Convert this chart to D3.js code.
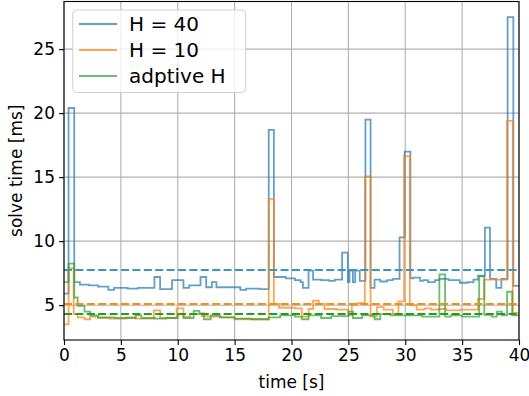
<!DOCTYPE html>
<html>
<head>
<meta charset="utf-8">
<script src="https://cdn.jsdelivr.net/npm/d3@7"></script>
<style>
  body { margin: 0; background: #fff; }
  text { font-family: "DejaVu Sans", sans-serif; }
</style>
</head>
<body>
<svg id="chart" width="529" height="396"></svg>
<script>
// step series: time where each step starts [s] and its solve time [ms]
let tH40 = [0, 0.4, 0.9, 1.4, 2.2, 3.0, 3.9, 4.4, 5.6, 6.5, 7.95, 8.45, 9.5, 10.5, 11.0, 12.0, 12.5, 13.0, 13.4, 15.5, 16.0, 17.2,
  18.0, 18.45, 19.5, 20.3, 20.8, 21.0, 21.5, 21.9, 22.6, 23.3, 23.8, 24.45, 24.95, 25.1, 25.4, 25.6, 26.0, 26.5, 26.95, 27.3,
  27.8, 28.4, 28.9, 29.5, 29.95, 30.45, 30.7, 31.3, 31.6, 32.0, 32.6, 33.0, 33.8, 34.8, 35.5, 36.0, 36.4, 37.0, 37.45, 38.0,
  38.45, 39.0, 39.5];
let vH40 = [5.9, 20.4, 6.8, 6.6, 6.55, 6.45, 6.2, 6.35, 6.3, 6.35, 7.2, 6.25, 6.95, 6.35, 6.55, 7.2, 6.4, 6.8, 6.4, 6.2, 6.3, 6.25,
  18.7, 7.2, 7.1, 6.95, 6.8, 6.35, 7.7, 7.0, 6.95, 6.9, 7.0, 9.1, 6.8, 7.7, 6.8, 7.7, 6.9, 19.5, 6.35, 7.0,
  6.85, 6.95, 7.05, 10.3, 17.0, 7.1, 7.15, 6.9, 6.95, 6.8, 6.95, 7.05, 6.95, 6.75, 6.8, 7.0, 7.3, 11.05, 7.05, 6.35,
  7.05, 27.5, 6.5];

let tH10 = [0, 0.4, 0.85, 1.2, 1.8, 2.3, 3.0, 4.0, 5.5, 6.3, 7.9, 8.45, 9.9, 10.5, 11.1, 12.1, 12.6, 13.8, 15.0, 18.0, 18.45,
  18.9, 20.3, 20.9, 21.5, 21.9, 22.4, 22.9, 24.0, 25.0, 25.3, 25.8, 26.45, 26.95, 27.5, 28.1, 28.9, 29.4, 29.9, 30.4, 31.0,
  31.7, 32.3, 32.9, 33.6, 34.8, 36.4, 36.95, 38.95, 39.45];
let vH10 = [3.5, 7.9, 4.3, 4.05, 3.9, 4.1, 4.0, 3.95, 4.05, 3.95, 4.6, 4.0, 4.75, 4.1, 4.3, 4.15, 4.1, 4.05, 3.9, 13.3, 5.1,
  4.8, 4.75, 4.1, 4.7, 5.35, 5.1, 4.7, 4.65, 4.2, 5.05, 5.15, 15.05, 4.1, 4.85, 4.65, 4.3, 5.3, 16.65, 5.0, 4.65,
  4.75, 4.65, 4.7, 4.6, 4.65, 5.5, 7.0, 19.4, 4.4];

let tAdapt = [0, 0.4, 0.9, 1.2, 1.8, 2.3, 3.0, 4.5, 6.3, 6.8, 8.0, 9.0, 10.0, 10.5, 11.4, 11.9, 12.3, 12.9, 13.7, 15.0, 16.5,
  18.0, 19.0, 20.3, 20.9, 21.5, 22.6, 23.5, 25.0, 25.4, 26.2, 27.3, 27.8, 28.7, 30.5, 31.5, 33.0, 33.5, 34.0, 35.0, 36.5,
  36.95, 37.6, 38.05, 38.5, 38.95, 39.4];
let vAdapt = [6.8, 8.25, 5.6, 4.95, 4.5, 4.2, 4.05, 4.0, 4.2, 4.0, 3.95, 4.0, 4.3, 4.0, 4.55, 4.35, 3.9, 4.2, 4.05, 3.95, 3.9,
  4.05, 4.2, 4.1, 3.9, 4.2, 4.0, 4.15, 4.5, 4.0, 4.2, 3.9, 4.3, 4.2, 4.2, 4.1, 7.4, 4.1, 4.2, 4.1, 7.25,
  4.25, 4.1, 4.5, 4.2, 6.05, 4.2];

let means = [7.74, 5.13, 4.3];
let labels = ["H = 40", "H = 10", "adptive H"];
let xTicks = [0, 5, 10, 15, 20, 25, 30, 35, 40];
let yTicks = [5, 10, 15, 20, 25];

let lineColors = ["#1f77b4", "#ff7f0e", "#2ca02c"];
let dashColors = ["#3a97bb", "#f5900f", "#1f9e1f"];

let svg = d3.select("#chart");
let pLeft = 64, pRight = 519, pTop = 1.5, pBottom = 340;

let x = d3.scaleLinear().domain([0, 40]).range([pLeft, pRight]);
let y = d3.scaleLinear().domain([2.28, 28.72]).range([pBottom, pTop]);

// grid
svg.append("g")
  .selectAll("line")
  .data(xTicks)
  .enter()
  .append("line")
  .attr("x1", d => x(d)).attr("x2", d => x(d))
  .attr("y1", pTop).attr("y2", pBottom)
  .attr("stroke", "#b0b0b0").attr("stroke-width", 1.1);

svg.append("g")
  .selectAll("line")
  .data(yTicks)
  .enter()
  .append("line")
  .attr("x1", pLeft).attr("x2", pRight)
  .attr("y1", d => y(d)).attr("y2", d => y(d))
  .attr("stroke", "#b0b0b0").attr("stroke-width", 1.1);

svg.append("clipPath").attr("id", "clip")
  .append("rect")
  .attr("x", pLeft).attr("y", pTop)
  .attr("width", pRight - pLeft).attr("height", pBottom - pTop);

let series = [[tH40, vH40], [tH10, vH10], [tAdapt, vAdapt]];

let line = d3.line()
  .x(d => x(d[0]))
  .y(d => y(d[1]))
  .curve(d3.curveStepAfter);

let plot = svg.append("g").attr("clip-path", "url(#clip)");

series.forEach(function(s, i) {
  let pts = s[0].map((t, j) => [t, s[1][j]]);
  pts.push([40, s[1][s[1].length - 1]]);
  plot.append("path")
    .datum(pts)
    .attr("d", line)
    .attr("fill", "none")
    .attr("stroke", lineColors[i])
    .attr("stroke-opacity", 0.7)
    .attr("stroke-width", 1.8);
});

means.forEach(function(m, i) {
  plot.append("line")
    .attr("x1", pLeft).attr("x2", pRight)
    .attr("y1", Math.round(y(m))).attr("y2", Math.round(y(m)))
    .attr("stroke", dashColors[i])
    .attr("stroke-width", 2)
    .attr("stroke-dasharray", "8,3.4");
});

// axes
let xAxis = svg.append("g")
  .attr("transform", "translate(0," + pBottom + ")")
  .call(d3.axisBottom(x).tickValues(xTicks).tickSize(5).tickPadding(4).tickFormat(d3.format("d")));
let yAxis = svg.append("g")
  .attr("transform", "translate(" + pLeft + ",0)")
  .call(d3.axisLeft(y).tickValues(yTicks).tickSize(5).tickPadding(4).tickFormat(d3.format("d")));

[xAxis, yAxis].forEach(function(a) {
  a.select(".domain").remove();
  a.selectAll("text").attr("font-size", 17).attr("fill", "#000").attr("font-family", "DejaVu Sans");
  a.selectAll("line").attr("stroke", "#000").attr("stroke-width", 1.1);
});

svg.append("rect")
  .attr("x", pLeft).attr("y", pTop)
  .attr("width", pRight - pLeft).attr("height", pBottom - pTop)
  .attr("fill", "none")
  .attr("stroke", "#000")
  .attr("stroke-width", 1.1);

svg.append("text")
  .attr("x", (pLeft + pRight) / 2)
  .attr("y", 388)
  .attr("text-anchor", "middle")
  .attr("font-size", 17)
  .text("time [s]");

svg.append("text")
  .attr("transform", "translate(22," + ((pTop + pBottom) / 2) + ") rotate(-90)")
  .attr("text-anchor", "middle")
  .attr("font-size", 17)
  .text("solve time [ms]");

// legend
let legend = svg.append("g");
legend.append("rect")
  .attr("x", 72.7).attr("y", 10)
  .attr("width", 173).attr("height", 82.5)
  .attr("rx", 4)
  .attr("fill", "#fff").attr("fill-opacity", 0.8)
  .attr("stroke", "#d0d0d0").attr("stroke-width", 1);

labels.forEach(function(l, i) {
  let ly = 24 + i * 26;
  legend.append("line")
    .attr("x1", 79).attr("x2", 117)
    .attr("y1", ly).attr("y2", ly)
    .attr("stroke", lineColors[i])
    .attr("stroke-opacity", 0.7)
    .attr("stroke-width", 1.8);
  legend.append("text")
    .attr("x", 129).attr("y", ly + 7)
    .attr("font-size", 20)
    .text(l);
});
</script>
</body>
</html>
